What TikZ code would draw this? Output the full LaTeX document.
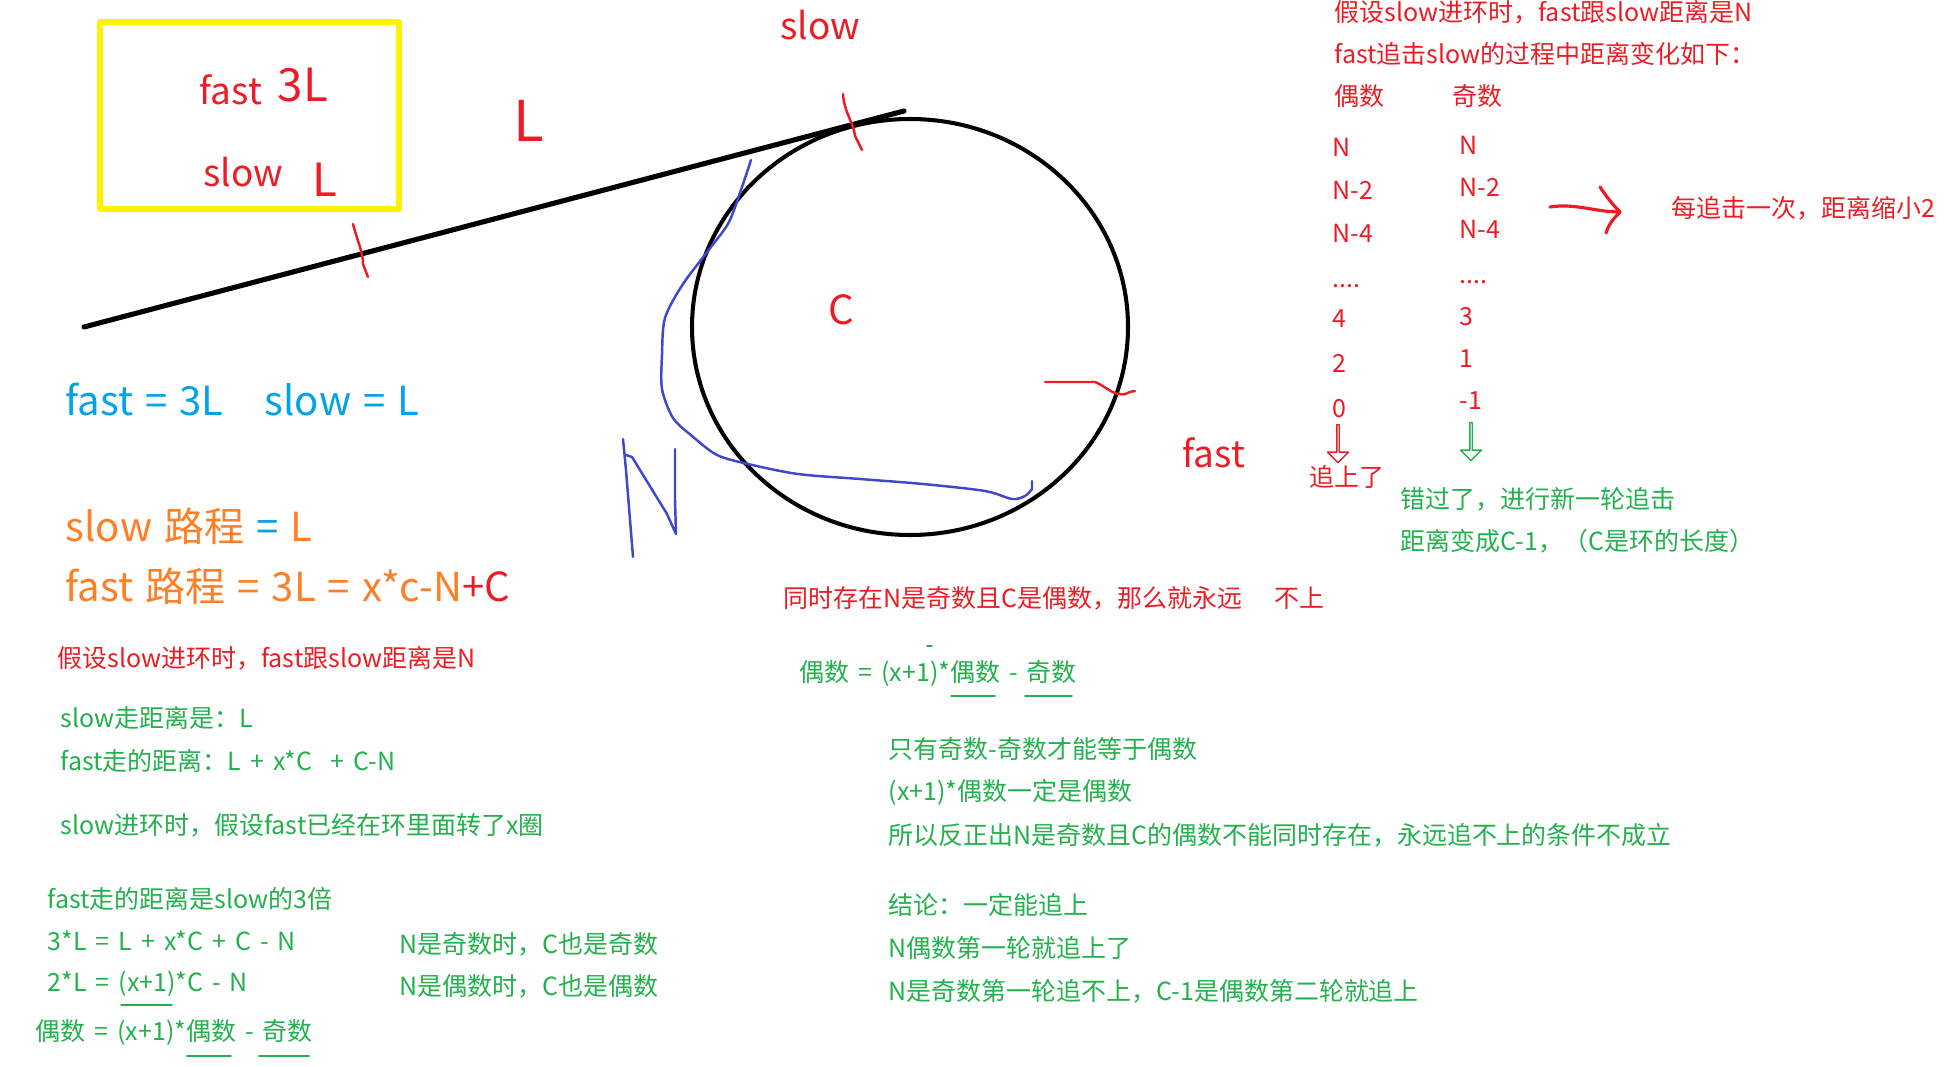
\documentclass[tikz,border=0pt]{standalone}
\usepackage{fontspec}
\setmainfont{Noto Sans CJK SC}
\usetikzlibrary{shapes.arrows}

\definecolor{pred}{RGB}{237,28,36}
\definecolor{pgreen}{RGB}{34,177,76}
\definecolor{pcyan}{RGB}{0,162,232}
\definecolor{porange}{RGB}{255,127,39}
\definecolor{pyellow}{RGB}{255,242,0}
\definecolor{pblue}{RGB}{63,72,204}

\newcommand\notefont{\fontsize{7.1}{8.5}\selectfont\spaceskip=0.36em\relax}
\newcommand\bigfont{\fontsize{11.4}{13}\selectfont\spaceskip=0.3em\relax}

\begin{document}
\begin{tikzpicture}[
  x=0.01cm, y=-0.01cm,
  line cap=round, line join=round,
  note/.style={inner sep=0pt, anchor=west, font=\notefont},
  big/.style={inner sep=0pt, anchor=west, font=\bigfont},
  mid/.style={inner sep=0pt, anchor=west, font=\fontsize{10.5}{12}\selectfont},
  pen/.style={line width=0.7pt},
  hollow/.style={single arrow, draw, shape border rotate=270, minimum height=0.38cm,
    minimum width=0.21cm, single arrow head extend=0.055cm, inner sep=0pt}
]
  \useasboundingbox (0,0) rectangle (1955,1067);

  % Box with the two speeds
  \draw[pyellow, line width=1.45pt] (100,22) rectangle (399,209);
  \node[mid, text=pred] (bfast) at (199,90) {fast};
  \node[inner sep=0pt, anchor=west, font=\fontsize{13}{15}\selectfont, text=pred] (b3L) at (277,85) {3L};
  \node[mid, text=pred] (bslow) at (203,172) {slow};
  \node[inner sep=0pt, anchor=west, font=\fontsize{13}{15}\selectfont, text=pred] (bL) at (312,180) {L};

  % Straight part and ring
  \coordinate (lstart) at (84,327);
  \coordinate (lend) at (904,111);
  \draw[line width=1.45pt] (lstart) -- (lend);
  \draw[line width=1.15pt] (910,327) ellipse [x radius=218, y radius=208];

  \node[inner sep=0pt, anchor=west, font=\fontsize{16}{18}\selectfont, text=pred] (lenL) at (513,121) {L};
  \node[mid, text=pred] (slowtop) at (780,25) {slow};
  \node[big, text=pred] (ringC) at (828,310) {C};
  \node[mid, text=pred] (fastright) at (1182,453) {fast};

  % Red marks
  \draw[pred, pen] (353,224) .. controls (358,243) and (363,252) .. (363,264) -- (368,277);
  \draw[pred, pen] (843,94) .. controls (844,112) and (854,124) .. (855,136) -- (862,150);
  \draw[pred, pen] (1045,382) -- (1095,382) .. controls (1105,386) and (1112,394) .. (1120,394)
    .. controls (1126,396) and (1128,391) .. (1135,391);

  % Blue pen: N and the way round the ring
  \draw[pblue, pen] plot[smooth, tension=0.5] coordinates {(751,160) (742,187) (729,222) (711,247)
    (683,284) (665,318) (662,355) (662,389) (673,418) (692,436) (717,455) (748,464) (798,474)
    (860,479) (923,484) (985,491) (1012,499) (1025,496) (1032,489)} -- (1032,481);
  \draw[pblue, pen] (623,439) -- (626,470) -- (630,520) -- (633,557);
  \draw[pblue, pen] (626,455) -- (632,457) -- (667,514) -- (676,534) -- (675,500) -- (675,449);

  % Left notes
  \node[big, text=pcyan] (eqfast) at (65,400) {fast = 3L};
  \node[big, text=pcyan] (eqslow) at (264,400) {slow = L};
  \node[big, text=porange] (pslow) at (65,526) {slow 路程 \textcolor{pcyan}{=} L};
  \node[big, text=porange] (pfast) at (65,586) {fast 路程 = 3L = x*c-N\textcolor{pred}{+C}};
  \node[note, text=pred] (a1) at (57,658) {假设slow进环时，fast跟slow距离是N};
  \node[note, text=pgreen] (a2) at (60,718) {slow走距离是：L};
  \node[note, text=pgreen] (a3) at (60,761) {fast走的距离：L + x*C \ + C-N};
  \node[note, text=pgreen] (a4) at (60,825) {slow进环时，假设fast已经在环里面转了x圈};
  \node[note, text=pgreen] (a5) at (47,899) {fast走的距离是slow的3倍};
  \node[note, text=pgreen] (a6) at (47,941) {3*L = L + x*C + C - N};
  \node[note, text=pgreen] (a7) at (47,984) {2*L = (x+1)*C - N};
  \node[note, text=pgreen] (a8) at (35,1032) {偶数 = (x+1)*偶数 - 奇数};
  \node[note, text=pgreen] (a9) at (399,944) {N是奇数时，C也是奇数};
  \node[note, text=pgreen] (a10) at (399,986) {N是偶数时，C也是偶数};
  \draw[pgreen, line width=0.5pt] (121,1005) -- (172,1005);
  \draw[pgreen, line width=0.5pt] (187,1056) -- (231,1056);
  \draw[pgreen, line width=0.5pt] (259,1056) -- (309,1056);

  % Middle notes
  \node[note, text=pred] (m1) at (783,598) {同时存在N是奇数且C是偶数，那么就永远\hspace{1.3em}不上};
  \node[note, text=pgreen] (m2) at (799,673) {偶数 = (x+1)*偶数 - 奇数};
  \draw[pgreen, line width=0.5pt] (951,696) -- (995,696);
  \draw[pgreen, line width=0.5pt] (1025,696) -- (1072,696);
  \draw[pgreen, line width=0.5pt] (927,646) -- (932,646);
  \node[note, text=pgreen] (m3) at (888,749) {只有奇数-奇数才能等于偶数};
  \node[note, text=pgreen] (m4) at (888,792) {(x+1)*偶数一定是偶数};
  \node[note, text=pgreen] (m5) at (888,835) {所以反正出N是奇数且C的偶数不能同时存在，永远追不上的条件不成立};
  \node[note, text=pgreen] (m6) at (888,905) {结论：一定能追上};
  \node[note, text=pgreen] (m7) at (888,948) {N偶数第一轮就追上了};
  \node[note, text=pgreen] (m8) at (888,991) {N是奇数第一轮追不上，C-1是偶数第二轮就追上};

  % Right: distance per chase
  \node[note, text=pred] (r1) at (1334,12) {假设slow进环时，fast跟slow距离是N};
  \node[note, text=pred] (r2) at (1334,54) {fast追击slow的过程中距离变化如下：};
  \node[note, text=pred] (even) at (1334,96) {偶数};
  \node[note, text=pred] (odd) at (1452,96) {奇数};
  \node[note, text=pred] (e1) at (1332,147) {N};
  \node[note, text=pred] (e2) at (1332,190) {N-2};
  \node[note, text=pred] (e3) at (1332,233) {N-4};
  \node[note, text=pred] (e4) at (1332,286) {....};
  \node[note, text=pred] (e5) at (1332,319) {4};
  \node[note, text=pred] (e6) at (1332,363) {2};
  \node[note, text=pred] (e7) at (1332,409) {0};
  \node[note, text=pred] (o1) at (1459,145) {N};
  \node[note, text=pred] (o2) at (1459,187) {N-2};
  \node[note, text=pred] (o3) at (1459,229) {N-4};
  \node[note, text=pred] (o4) at (1459,282) {....};
  \node[note, text=pred] (o5) at (1459,317) {3};
  \node[note, text=pred] (o6) at (1459,359) {1};
  \node[note, text=pred] (o7) at (1459,401) {-1};

  \node[hollow, draw=pred] (downe) at (1338,443) {};
  \node[hollow, draw=pgreen] (downo) at (1471,441) {};
  \node[note, text=pred] (caught) at (1309,477) {追上了};
  \node[note, text=pgreen] (miss1) at (1400,499) {错过了，进行新一轮追击};
  \node[note, text=pgreen] (miss2) at (1400,541) {距离变成C-1，（C是环的长度）};

  \coordinate (chs) at (1550,207);
  \coordinate (che) at (1620,212);
  \node[note, text=pred] (shrink) at (1671,208) {每追击一次，距离缩小2};
  \draw[pred, line width=0.9pt] (chs) .. controls (1575,203) and (1595,212) .. (che);
  \draw[pred, line width=0.9pt] (1600,187) .. controls (1606,196) and (1612,204) .. (che)
    .. controls (1612,220) and (1608,226) .. (1606,233);
\end{tikzpicture}
\end{document}
